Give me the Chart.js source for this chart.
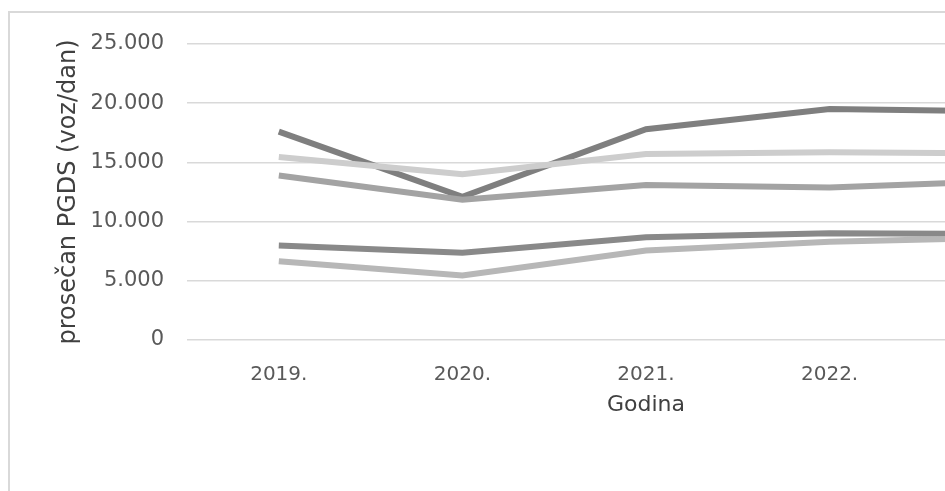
<!DOCTYPE html>
<html>
<head>
<meta charset="utf-8">
<script src="https://cdn.jsdelivr.net/npm/chart.js@4"></script>
<style>
  html, body { margin: 0; padding: 0; overflow: hidden; background: #fff; width: 945px; height: 491px; }
  #frame { position: absolute; left: 8px; top: 11px; width: 2000px; height: 1000px; border: 2px solid #d9d9d9; }
  #wrap { position: absolute; left: 0; top: 0; width: 1120px; height: 491px; }
</style>
</head>
<body>
<div id="frame"></div>
<div id="wrap"><canvas id="chart"></canvas></div>
<script>
// years on the x axis (the last one falls outside the visible crop)
const years = ['2019.', '2020.', '2021.', '2022.', '2023.'];

// average daily traffic per counting site
const seriesA = [17600, 12100, 17800, 19500, 19300];
const seriesB = [15450, 14000, 15700, 15850, 15750];
const seriesC = [13900, 11850, 13100, 12870, 13450];
const seriesD = [7980, 7370, 8680, 9010, 8950];
const seriesE = [6660, 5450, 7560, 8300, 8650];

const yTicks = [0, 5000, 10000, 15000, 20000, 25000];

const fmt = v => v === 0 ? '0' : v.toLocaleString('de-DE');

const line = (data, color) => ({
  data: data,
  borderColor: color,
  borderWidth: 6,
  pointRadius: 0,
  fill: false,
  tension: 0
});

new Chart(document.getElementById('chart'), {
  type: 'line',
  data: {
    labels: years,
    datasets: [
      line(seriesE, '#b7b7b7'),
      line(seriesD, '#898989'),
      line(seriesC, '#a3a3a3'),
      line(seriesB, '#cdcdcd'),
      line(seriesA, '#7f7f7f')
    ]
  },
  options: {
    responsive: true,
    maintainAspectRatio: false,
    animation: false,
    layout: { padding: { left: 40, top: 44, right: 15, bottom: 71 } },
    plugins: {
      legend: { display: false },
      tooltip: { enabled: false }
    },
    scales: {
      x: {
        offset: true,
        grid: { display: false, drawTicks: false },
        border: { display: false },
        ticks: { color: '#595959', padding: 23, font: { family: 'DejaVu Sans', size: 20 } },
        title: {
          display: true,
          text: 'Godina',
          color: '#404040',
          padding: { top: 0, bottom: 2 },
          font: { family: 'DejaVu Sans', size: 22 }
        },
        afterFit: s => { s.height = 80; }
      },
      y: {
        min: 0,
        max: 25000,
        afterBuildTicks: s => { s.ticks = yTicks.map(v => ({ value: v })); },
        grid: { color: '#d9d9d9', lineWidth: 1.5, drawTicks: false },
        border: { display: false },
        ticks: {
          color: '#595959',
          padding: 23,
          font: { family: 'DejaVu Sans', size: 21 },
          callback: v => fmt(v)
        },
        title: {
          display: true,
          text: 'prosečan PGDS (voz/dan)',
          color: '#404040',
          padding: { top: 14, bottom: 0 },
          font: { family: 'DejaVu Sans', size: 24 }
        },
        afterFit: s => { s.width = 147; }
      }
    }
  }
});
</script>
</body>
</html>
